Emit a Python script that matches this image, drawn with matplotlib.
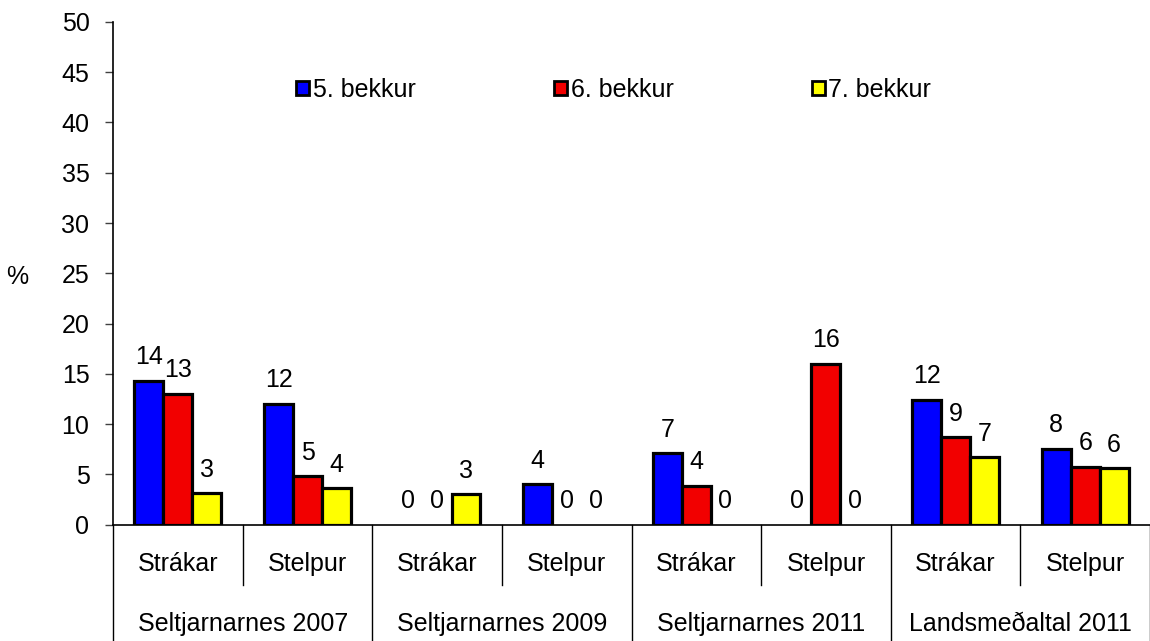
import numpy as np
import matplotlib.pyplot as plt
from matplotlib.patches import Patch

plt.rcParams['font.family'] = ['Liberation Sans', 'DejaVu Sans']

# --- data ---
sub_labels = ['Strákar', 'Stelpur'] * 4
group_labels = ['Seltjarnarnes 2007', 'Seltjarnarnes 2009',
                'Seltjarnarnes 2011', 'Landsmeðaltal 2011']
series_names = ['5. bekkur', '6. bekkur', '7. bekkur']
bekkur5 = [14.3, 12.0, 0.0, 4.0, 7.1, 0.0, 12.4, 7.5]
bekkur6 = [13.0, 4.8, 0.0, 0.0, 3.86, 16.0, 8.67, 5.75]
bekkur7 = [3.1, 3.6, 3.0, 0.0, 0.0, 0.0, 6.7, 5.6]
colors = ['#0000FF', '#F20000', '#FFFF00']

FS = 18

fig = plt.figure(figsize=(11.5, 6.41), dpi=100)
ax = fig.add_axes([0.0983, 0.1817, 0.9017, 0.784])

x = np.arange(len(sub_labels))
w = 0.223
for i, (vals, col) in enumerate(zip([bekkur5, bekkur6, bekkur7], colors)):
    # no outline on zero-height bars
    lws = [2.3 if v > 0 else 0 for v in vals]
    bars = ax.bar(x + (i - 1) * w, vals, width=w, color=col,
                  edgecolor='black', linewidth=lws)
    for b, v in zip(bars, vals):
        ax.annotate(f'{v:.0f}', (b.get_x() + b.get_width() / 2, v),
                    xytext=(0, 12), textcoords='offset points',
                    ha='center', va='baseline', fontsize=FS)

ax.set_xlim(-0.5, 7.5)
ax.set_ylim(0, 50)
ax.set_yticks(np.arange(0, 51, 5))
ax.tick_params(axis='y', labelsize=FS, length=6, width=1, color='#404040', pad=11)
ax.set_xticks([])
for s in ['top', 'right']:
    ax.spines[s].set_visible(False)
ax.spines['left'].set_linewidth(1.2)
ax.spines['bottom'].set_linewidth(1.2)
ax.spines['bottom'].set_zorder(3)

# category axis lines and labels
trans = ax.get_xaxis_transform()
for k in range(9):
    xb = k - 0.5
    bottom = -0.232 if k % 2 == 0 else -0.12
    ax.plot([xb, xb], [0, bottom], transform=trans, color='black',
            lw=1.0, clip_on=False)
for xi, lab in zip(x, sub_labels):
    ax.text(xi, -0.0786, lab, transform=trans, ha='center', va='center', fontsize=FS)
for g, lab in enumerate(group_labels):
    ax.text(2 * g + 0.5, -0.198, lab, transform=trans, ha='center', va='center', fontsize=FS)

fig.text(17 / 1150, 1 - 277 / 641, '%', ha='center', va='center', fontsize=FS)

handles = [Patch(facecolor=c, edgecolor='black', linewidth=2.0) for c in colors]
ax.legend(handles, series_names, loc='center', bbox_to_anchor=(0.483, 0.865),
          ncol=3, frameon=False, fontsize=FS, handlelength=0.5, handleheight=0.5,
          handletextpad=0.15, columnspacing=5.55)

fig.savefig('out.png', dpi=100)
